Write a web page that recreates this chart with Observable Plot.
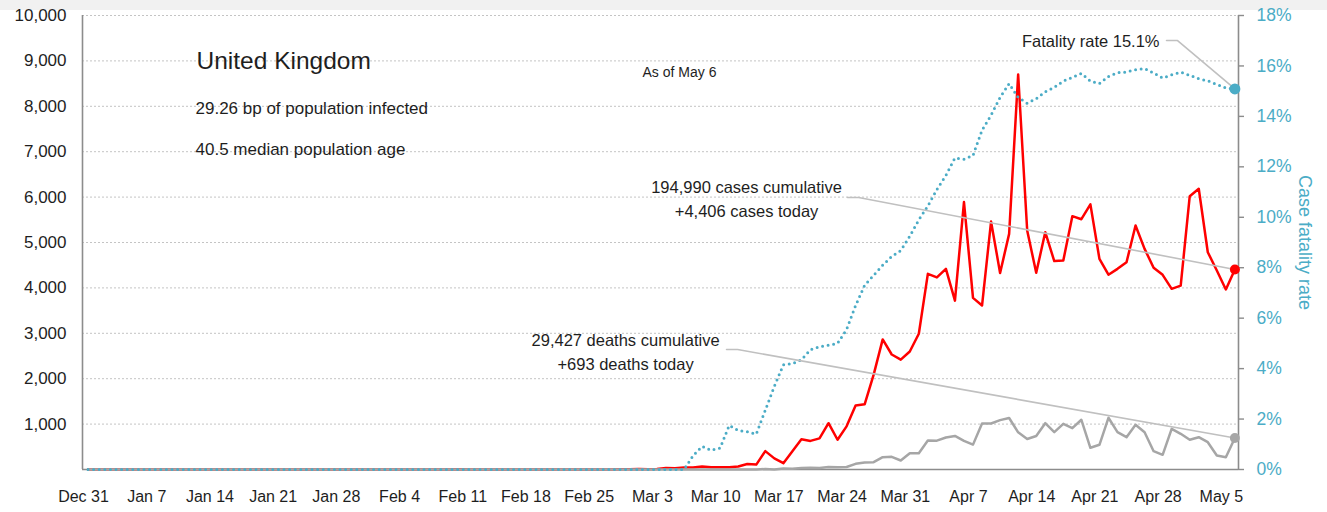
<!DOCTYPE html>
<html>
<head>
<meta charset="utf-8">
<script src="https://cdn.jsdelivr.net/npm/d3@7"></script>
<script src="https://cdn.jsdelivr.net/npm/@observablehq/plot@0.6"></script>
<style>
  html, body { margin: 0; padding: 0; }
  body { background: linear-gradient(#f1f1f1 0, #f1f1f1 10px, #ffffff 10px); width: 1327px; height: 512px; overflow: hidden; }
  #chart svg text { font-family: "Liberation Sans", Arial, sans-serif; }
  #chart g[aria-label^="y-axis"] text { font-size: 17px; fill: #1e1e1e; }
  #chart g[aria-label^="x-axis"] text { font-size: 16px; fill: #1e1e1e; }
  #chart g[aria-label^="y-axis"] line, #chart g[aria-label^="x-axis"] line { stroke: #8c8c8c; stroke-width: 1.4px; stroke-opacity: 1; }
  #chart g[aria-label^="y-axis"] path, #chart g[aria-label^="x-axis"] path { display: none; }
</style>
</head>
<body>
<div id="chart"></div>
<script>
// ---- Data ----
const country = "United Kingdom";
const subtitleLines = ["29.26 bp of population infected", "40.5 median population age"];
const asOfLabel = "As of May 6";
const firstDay = "2019-12-31";
const casesCumulative = 194990;
const deathsCumulative = 29427;

// daily new cases, one value per day from Dec 31 to May 6
const dailyCases = [
  0,0,0,0,0,0,0,0,0,0,
  0,0,0,0,0,0,0,0,0,0,
  0,0,0,0,0,0,0,0,0,0,
  0,2,0,0,0,0,0,1,0,0,
  0,4,0,0,0,0,0,0,0,0,
  0,0,0,0,0,0,0,0,2,4,
  3,12,5,11,34,29,46,46,65,50,
  52,48,66,120,108,405,245,140,400,665,
  630,685,1020,655,950,1410,1435,2090,2865,2533,
  2420,2600,2990,4310,4230,4420,3720,5890,3780,3612,
  5460,4330,5190,8700,5265,4332,5227,4590,4604,5580,
  5513,5840,4640,4290,4420,4566,5375,4860,4445,4288,
  3980,4050,6020,6183,4786,4383,3965,4406
];

// daily deaths
const dailyDeaths = [
  0,0,0,0,0,0,0,0,0,0,
  0,0,0,0,0,0,0,0,0,0,
  0,0,0,0,0,0,0,0,0,0,
  0,0,0,0,0,0,0,0,0,0,
  0,0,0,0,0,0,0,0,0,0,
  0,0,0,0,0,0,0,0,0,0,
  0,0,0,0,0,0,1,1,0,1,
  1,2,2,2,1,11,0,21,16,33,
  40,33,56,48,54,125,154,161,271,280,
  198,360,360,639,635,705,740,630,548,1013,
  1013,1087,1135,818,672,738,1020,822,1006,910,
  1095,478,544,1139,822,712,985,822,403,324,
  896,786,654,712,601,308,271,693
];

// case fatality rate, % (cumulative deaths / cumulative cases)
const fatalityRate = [
  0,0,0,0,0,0,0,0,0,0,
  0,0,0,0,0,0,0,0,0,0,
  0,0,0,0,0,0,0,0,0,0,
  0,0,0,0,0,0,0,0,0,0,
  0,0,0,0,0,0,0,0,0,0,
  0,0,0,0,0,0,0,0,0,0,
  0,0,0,0,0,0,0,0.55,0.92,0.76,
  0.85,1.75,1.55,1.5,1.4,2.35,3.3,4.15,4.2,4.35,
  4.75,4.87,4.93,5.0,5.55,6.5,7.3,7.7,8.1,8.45,
  8.68,9.25,9.9,10.45,11.1,11.66,12.35,12.3,12.45,13.45,
  14.05,14.75,15.3,14.75,14.52,14.7,14.97,15.15,15.4,15.55,
  15.7,15.4,15.3,15.58,15.73,15.76,15.85,15.9,15.72,15.52,
  15.65,15.75,15.63,15.49,15.41,15.27,15.13,15.09
];

// axis ticks
const caseTicks = [0,1000,2000,3000,4000,5000,6000,7000,8000,9000,10000];
const rateTicks = [0,2,4,6,8,10,12,14,16,18];
const weekTicks = ["2019-12-31","2020-01-07","2020-01-14","2020-01-21","2020-01-28","2020-02-04","2020-02-11","2020-02-18","2020-02-25","2020-03-03","2020-03-10","2020-03-17","2020-03-24","2020-03-31","2020-04-07","2020-04-14","2020-04-21","2020-04-28","2020-05-05"];

// annotation leader anchors (data units: date, cases-axis value)
const leaderAnchors = {
  cases:    {start: "2020-03-24T14:38Z", elbow: "2020-03-25T20:00Z", value: 5991},
  deaths:   {start: "2020-03-11T05:00Z", elbow: "2020-03-12T10:20Z", value: 2643},
  fatality: {start: "2020-04-28T22:20Z", elbow: "2020-04-30T03:40Z", value: 9449}
};

// ---- Build ----
const RED = "#ff0000", GRAY = "#a6a6a6", TEAL = "#4bacc6", AXIS = "#8c8c8c", GRID = "#c4c4c4", LEADER = "#c0c0c0", TEXT = "#1e1e1e";
const FONT = '"Liberation Sans", Arial, sans-serif';
const yMax = 10000, rateMax = 18;
const rateToY = r => r * yMax / rateMax;

const day0 = d3.utcParse("%Y-%m-%d")(firstDay);
const rows = dailyCases.map((c, i) => ({
  date: d3.utcHour.offset(d3.utcDay.offset(day0, i), 12),
  cases: c,
  deaths: dailyDeaths[i],
  rate: fatalityRate[i]
}));
const last = rows[rows.length - 1];
const xDomain = [d3.utcMinute.offset(day0, -160), d3.utcMinute.offset(d3.utcDay.offset(day0, 127), 1296)];
const rightTickEnd = d3.utcMinute.offset(xDomain[1], 960);
const xTicks = weekTicks.map(d3.utcParse("%Y-%m-%d"));
const fmt = d3.format(",");

const leaders = [];
const anchorPts = {};
for (const [id, a] of Object.entries(leaderAnchors)) {
  const s = new Date(a.start), e = new Date(a.elbow);
  const target = id === "cases" ? last.cases : id === "deaths" ? last.deaths : rateToY(last.rate);
  leaders.push({id, date: s, v: a.value}, {id, date: e, v: a.value}, {id, date: last.date, v: target});
  anchorPts[id] = {date: s, v: a.value};
}

const casesText = `${fmt(casesCumulative)} cases cumulative\n+${fmt(last.cases)} cases today`;
const deathsText = `${fmt(deathsCumulative)} deaths cumulative\n+${fmt(last.deaths)} deaths today`;
const fatalityText = `Fatality rate ${d3.format(".1f")(last.rate)}%`;

const plot = Plot.plot({
  width: 1327,
  height: 512,
  marginLeft: 82,
  marginRight: 89,
  marginTop: 15,
  marginBottom: 43,
  style: {background: "transparent", fontFamily: FONT, overflow: "visible"},
  x: {type: "utc", domain: xDomain, ticks: xTicks, tickSize: 5, tickPadding: 16,
      tickFormat: d3.utcFormat("%b %-d"), label: null},
  y: {domain: [0, yMax], ticks: caseTicks, tickSize: 5, tickPadding: 11,
      tickFormat: d => d === 0 ? "" : fmt(d), label: null},
  marks: [
    Plot.ruleY(caseTicks.filter(d => d > 0), {stroke: GRID, strokeWidth: 1, strokeDasharray: "2,2"}),
    // axis lines
    Plot.ruleX([xDomain[0]], {stroke: AXIS, strokeWidth: 1.6}),
    Plot.ruleX([xDomain[1]], {stroke: AXIS, strokeWidth: 1.6}),
    Plot.ruleY([0], {stroke: AXIS, strokeWidth: 1.6}),
    // right axis (fatality rate)
    Plot.ruleY(rateTicks, {y: rateToY, x1: xDomain[1], x2: rightTickEnd, stroke: AXIS, strokeWidth: 1.4}),
    Plot.text(rateTicks, {y: rateToY, text: d => `${d}%`, frameAnchor: "right", dx: 18, textAnchor: "start",
      lineAnchor: "middle", fontSize: 17.5, fill: TEAL}),
    Plot.text(["Case fatality rate"], {text: d => d, frameAnchor: "right", dx: 66, rotate: 90, textAnchor: "middle",
      lineAnchor: "middle", fontSize: 18, fill: TEAL}),
    // series
    Plot.line(rows, {x: "date", y: "cases", stroke: RED, strokeWidth: 2.5}),
    Plot.line(rows, {x: "date", y: "deaths", stroke: GRAY, strokeWidth: 2.5}),
    Plot.line(rows, {x: "date", y: d => rateToY(d.rate), stroke: TEAL, strokeWidth: 3, strokeDasharray: "0,5.6", strokeLinecap: "round"}),
    // leaders
    Plot.line(leaders, {x: "date", y: "v", z: "id", stroke: LEADER, strokeWidth: 1.6}),
    // end dots
    Plot.dot([last], {x: "date", y: "cases", r: 5, fill: RED}),
    Plot.dot([last], {x: "date", y: "deaths", r: 5, fill: GRAY}),
    Plot.dot([last], {x: "date", y: d => rateToY(d.rate), r: 5.5, fill: TEAL}),
    // annotations
    Plot.text([anchorPts.cases], {x: "date", y: "v", text: () => casesText, dx: -101, dy: 19, textAnchor: "middle",
      lineAnchor: "bottom", lineHeight: 24 / 16.5, fontSize: 16.5, fill: TEXT}),
    Plot.text([anchorPts.deaths], {x: "date", y: "v", text: () => deathsText, dx: -101, dy: 20, textAnchor: "middle",
      lineAnchor: "bottom", lineHeight: 24 / 16.5, fontSize: 16.5, fill: TEXT}),
    Plot.text([anchorPts.fatality], {x: "date", y: "v", text: () => fatalityText, dx: -7, dy: 6, textAnchor: "end",
      lineAnchor: "bottom", fontSize: 16.5, fill: TEXT}),
    // title block
    Plot.text([country], {text: d => d, frameAnchor: "top-left", dx: 114, dy: 53, lineAnchor: "bottom", textAnchor: "start",
      fontSize: 24.5, fill: TEXT}),
    Plot.text([subtitleLines[0]], {text: d => d, frameAnchor: "top-left", dx: 113, dy: 98, lineAnchor: "bottom", textAnchor: "start",
      fontSize: 17, fill: TEXT}),
    Plot.text([subtitleLines[1]], {text: d => d, frameAnchor: "top-left", dx: 113, dy: 139, lineAnchor: "bottom", textAnchor: "start",
      fontSize: 17, fill: TEXT}),
    Plot.text([asOfLabel], {text: d => d, frameAnchor: "top-left", dx: 560, dy: 61, lineAnchor: "bottom", textAnchor: "start",
      fontSize: 14, fill: TEXT})
  ]
});
document.getElementById("chart").appendChild(plot);
</script>
</body>
</html>
